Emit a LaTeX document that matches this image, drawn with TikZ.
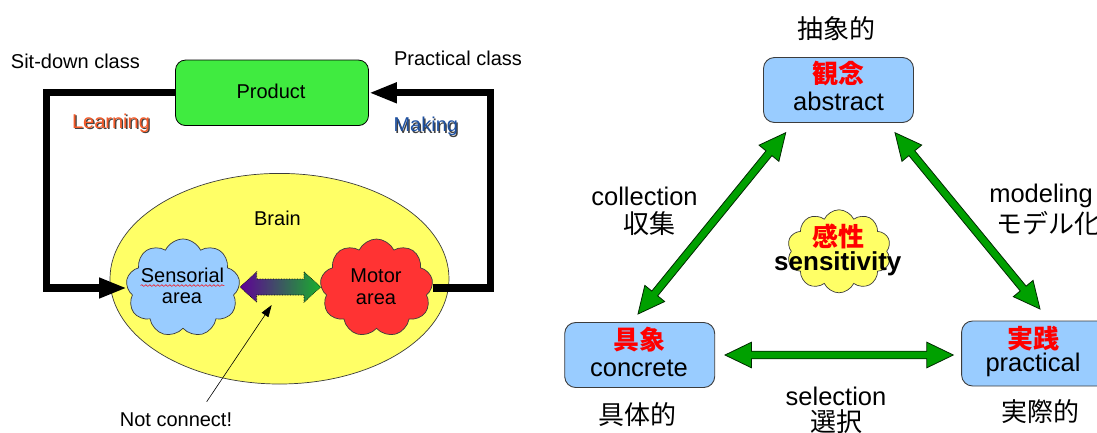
\documentclass[tikz,border=0pt]{standalone}
\usepackage{fontspec}
\setmainfont{Liberation Sans}
\newfontfamily\cjk{Noto Sans CJK JP}
\usetikzlibrary{arrows.meta,calc,shapes.symbols,decorations.pathmorphing}

\definecolor{prodgreen}{RGB}{64,235,64}
\definecolor{brainyellow}{RGB}{255,255,102}
\definecolor{skyblue}{RGB}{153,204,255}
\definecolor{motorred}{RGB}{255,51,51}
\definecolor{learnorange}{RGB}{245,90,40}
\definecolor{makeblue}{RGB}{30,80,160}
\definecolor{arrowgreen}{RGB}{0,160,0}
\definecolor{edgegrey}{RGB}{60,60,60}
\definecolor{linkviolet}{RGB}{95,0,150}
\definecolor{linkgreen}{RGB}{25,175,45}

% fat double-headed arrow between two points:
% #1 options, #2 from, #3 to, #4 shaft half width, #5 head length, #6 head half width
\newcommand\fatdbl[6][]{%
  \path[#1] let \p1=(#2), \p2=(#3), \n1={atan2(\y2-\y1,\x2-\x1)} in
    (\p1) -- ($(\p1)+(\n1:#5)+({\n1+90}:#6)$) -- ($(\p1)+(\n1:#5)+({\n1+90}:#4)$)
    -- ($(\p2)-(\n1:#5)+({\n1+90}:#4)$) -- ($(\p2)-(\n1:#5)+({\n1+90}:#6)$) -- (\p2)
    -- ($(\p2)-(\n1:#5)-({\n1+90}:#6)$) -- ($(\p2)-(\n1:#5)-({\n1+90}:#4)$)
    -- ($(\p1)+(\n1:#5)-({\n1+90}:#4)$) -- ($(\p1)+(\n1:#5)-({\n1+90}:#6)$) -- cycle;
}

\begin{document}
\begin{tikzpicture}[x=1pt,y=-1pt,
  lbl/.style={inner sep=0pt, font=\fontsize{20}{23}\selectfont},
  big/.style={inner sep=0pt, font=\fontsize{25.5}{28}\selectfont},
  jp/.style={inner sep=0pt, font=\fontsize{26}{28}\selectfont\cjk},
  bluebox/.style={draw=edgegrey, line width=0.9pt, fill=skyblue, rounded corners=11pt,
    minimum width=150pt, minimum height=65pt, inner sep=0pt, align=center,
    font=\fontsize{25.5}{28}\selectfont},
  redjp/.style={font=\fontsize{26}{28}\selectfont\cjk\bfseries, text=red},
  puff/.style={cloud, cloud puffs=9, cloud puff arc=130, draw=edgegrey, line width=0.7pt,
    inner sep=0pt, cloud ignores aspect},
  loopline/.style={line width=7.3pt, line join=miter, -{Triangle[length=28pt,width=19pt]}},
  pointer/.style={line width=0.6pt, -{Triangle[length=12pt,width=8pt]}},
  greenarrow/.style={fill=arrowgreen, draw=black!75!arrowgreen, line width=0.8pt, line join=miter},
  shadowtxt/.style={lbl, text=black!75},
  squiggle/.style={red, line width=0.5pt, decorate,
    decoration={snake, amplitude=0.9pt, segment length=4pt}}
]
\useasboundingbox (0,0) rectangle (1097,432);

% ---------------- learning loop ----------------
\node[draw=black, line width=0.8pt, fill=prodgreen, rounded corners=10pt,
  minimum width=193pt, minimum height=65.5pt, inner sep=0pt] (prod) at (272,92.8) {};
\node[lbl] (prodtxt) at (271,91.7) {Product};

\node[lbl] (sitdown) at (75.4,61.7) {Sit-down class};
\node[lbl] (practical) at (458,58.3) {Practical class};

\node[shadowtxt] (learnsh) at (112.3,124.6) {Learning};
\node[lbl, text=learnorange] (learn) at (111,123.3) {Learning};
\node[shadowtxt] (makesh) at (427.1,128) {Making};
\node[lbl, text=makeblue] (make) at (425.8,126.7) {Making};

% brain
\draw[draw=edgegrey, line width=0.7pt, fill=brainyellow] (279.5,278.7) ellipse (169.5 and 105.3);
\node[lbl] (brain) at (277.5,218) {Brain};

\node[puff, fill=skyblue, minimum width=114pt, minimum height=98pt] (sens) at (183,288) {};
\node[lbl] (senst) at (182.5,275) {Sensorial};
\node[lbl] (senst2) at (182,298.5) {area};
\draw[squiggle] ([yshift=-3pt]senst.south west) -- ([yshift=-3pt]senst.south east);

\node[puff, fill=motorred, minimum width=113pt, minimum height=98pt, shape border rotate=20] (mot) at (376.5,288) {};
\node[lbl] (mott) at (376,276) {Motor};
\node[lbl] (mott2) at (376,299.5) {area};

% feedback paths
\coordinate (lcorner) at (46.3,288);
\coordinate (rcorner) at (490.5,92.8);
\coordinate (sensin) at (127,288);
\coordinate (motout) at (433,288);
\draw[loopline] (prod.west) -| (lcorner) -- (sensin);
\draw[loopline] (motout) -| (rcorner) -- (prod.east);

% missing link between the two areas
\coordinate (linkL) at (240,287);
\coordinate (linkR) at (320.7,287);
\fatdbl[left color=linkviolet, right color=linkgreen, draw=black, densely dotted, line width=0.6pt]
  {linkL}{linkR}{8pt}{16.7pt}{15.3pt}

\node[lbl] (nc) at (176,420) {Not connect!};
\coordinate (ncfrom) at (206.7,401.7);
\coordinate (ncto) at (271.7,305);
\draw[pointer] (ncfrom) -- (ncto);

% ---------------- triangle of concepts ----------------
\node[jp] (abslbl) at (836.6,28.3) {抽象的};
\node[bluebox] (abs) at (838.5,90) {};
\node[redjp, inner sep=0pt] (abs1) at (838.5,74) {観念};
\node[big] (abs2) at (838.5,101.7) {abstract};

\node[bluebox] (con) at (639.7,355) {};
\node[redjp, inner sep=0pt] (con1) at (639,340) {具象};
\node[big] (con2) at (639,368.3) {concrete};
\node[jp] (conlbl) at (637,415) {具体的};

\node[bluebox] (pra) at (1036.6,353.5) {};
\node[redjp, inner sep=0pt] (pra1) at (1033,338.3) {実践};
\node[big] (pra2) at (1033,365) {practical};
\node[jp] (pralbl) at (1040,411.7) {実際的};

\node[puff, cloud puffs=10, fill=brainyellow, minimum width=104pt, minimum height=83pt] (sense) at (839,251.3) {};
\node[redjp, inner sep=0pt] (sense1) at (838.8,236) {感性};
\node[big, font=\fontsize{26}{28}\selectfont\bfseries] (sense2) at (837.8,263.3) {sensitivity};

\node[big] (coll) at (644.5,196) {collection};
\node[jp] (coll2) at (649,223.3) {収集};
\node[big] (model) at (1041,196) {modeling};
\node[jp, anchor=west] (model2) at (996.5,223.3) {モデル化};
\node[big] (sel) at (836,396.7) {selection};
\node[jp] (sel2) at (836,421.7) {選択};

\coordinate (tA) at (785.7,132.7);
\coordinate (tB) at (638,314);
\coordinate (tC) at (895,132.7);
\coordinate (tD) at (1040,309);
\coordinate (tE) at (725,355);
\coordinate (tF) at (953.3,355);
\fatdbl[greenarrow]{tA}{tB}{3.8pt}{26.5pt}{12.8pt}
\fatdbl[greenarrow]{tC}{tD}{3.8pt}{26.5pt}{12.8pt}
\fatdbl[greenarrow]{tE}{tF}{3.8pt}{26.5pt}{12.8pt}
\end{tikzpicture}
\end{document}
